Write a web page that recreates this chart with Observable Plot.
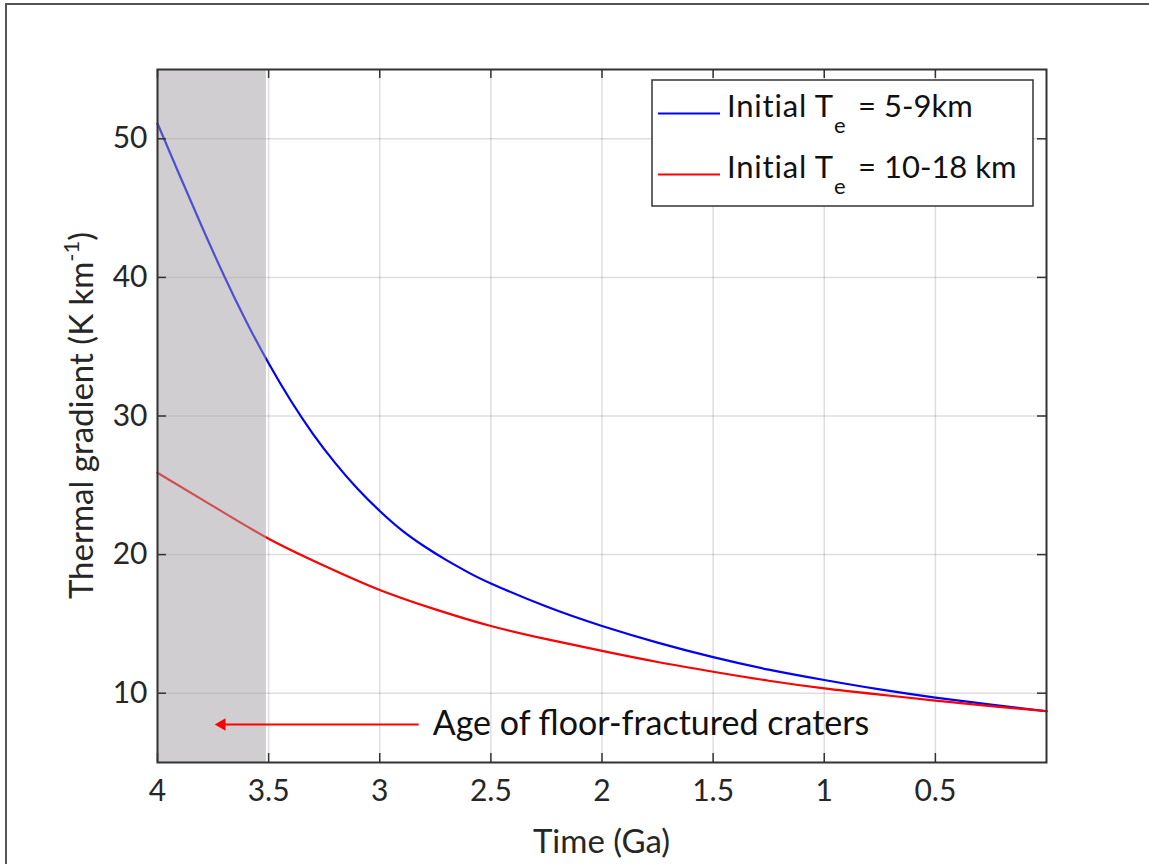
<!DOCTYPE html>
<html>
<head>
<meta charset="utf-8">
<script src="https://cdn.jsdelivr.net/npm/d3@7"></script>
<script src="https://cdn.jsdelivr.net/npm/@observablehq/plot@0.6"></script>
<style>
  html, body { margin: 0; padding: 0; background: #fff; overflow: hidden; }
  #wrap { position: relative; width: 1149px; height: 864px; }
  #border { position: absolute; left: 5px; top: 3px; width: 1200px; height: 900px;
            border-left: 2px solid #555; border-top: 2px solid #555; pointer-events: none; }
  svg { font-family: Lato, "Open Sans", sans-serif; }
</style>
</head>
<body>
<div id="wrap"><div id="chart"></div><div id="border"></div></div>
<script>
// ---- data ----
const timeTicks = [4, 3.5, 3, 2.5, 2, 1.5, 1, 0.5];
const gradTicks = [10, 20, 30, 40, 50];

const blueTime = [4, 3.9, 3.8, 3.7, 3.6, 3.5, 3.4, 3.3, 3.2, 3.1, 3.0, 2.9, 2.8, 2.7, 2.6, 2.5, 2.25, 2.0, 1.75, 1.5, 1.25, 1.0, 0.75, 0.5, 0.25, 0];
const blueGrad = [51.1, 47.35, 43.65, 40.1, 36.8, 33.8, 31.1, 28.7, 26.6, 24.75, 23.15, 21.75, 20.6, 19.6, 18.7, 17.92, 16.25, 14.85, 13.65, 12.6, 11.7, 10.95, 10.27, 9.68, 9.17, 8.7];

const redTime = [4, 3.75, 3.5, 3.25, 3.0, 2.75, 2.5, 2.25, 2.0, 1.75, 1.5, 1.25, 1.0, 0.75, 0.5, 0.25, 0];
const redGrad = [25.9, 23.5, 21.15, 19.2, 17.45, 16.05, 14.85, 13.9, 13.05, 12.25, 11.55, 10.9, 10.35, 9.9, 9.47, 9.07, 8.7];

const seriesNames = ["Initial T_e = 5-9km", "Initial T_e = 10-18 km"];
const seriesColors = ["#0000ff", "#ff0000"];

const shadeStart = 4, shadeEnd = 3.51;          // age of floor-fractured craters
const arrowTail = 2.825, arrowHead = 3.71, arrowGrad = 7.74;
const annotationText = "Age of floor-fractured craters";
const annotationTime = 2.762;

const xDomain = [4, 0], yDomain = [5, 55];

// ---- layout ----
const W = 1149, H = 864;
const mL = 157, mR = 103, mT = 69, mB = 102;
const plotW = W - mL - mR, plotH = H - mT - mB;
const tickPx = 9;
const dxTick = (xDomain[0] - xDomain[1]) / plotW * tickPx;
const dyTick = (yDomain[1] - yDomain[0]) / plotH * tickPx;

const blue = blueTime.map((t, i) => ({t, g: blueGrad[i]}));
const red = redTime.map((t, i) => ({t, g: redGrad[i]}));

const axisColor = "#333";
const svg = Plot.plot({
  width: W, height: H,
  marginLeft: mL, marginRight: mR, marginTop: mT, marginBottom: mB,
  style: {fontFamily: "Lato, 'Open Sans', sans-serif", color: "#262626", background: "white"},
  x: {domain: xDomain, label: null},
  y: {domain: yDomain, label: null},
  marks: [
    Plot.gridX(timeTicks, {stroke: "#000", strokeOpacity: 0.13, strokeWidth: 1.5}),
    Plot.gridY(gradTicks, {stroke: "#000", strokeOpacity: 0.13, strokeWidth: 1.5}),
    Plot.line(blue, {x: "t", y: "g", stroke: seriesColors[0], strokeWidth: 2.2, curve: "natural"}),
    Plot.line(red, {x: "t", y: "g", stroke: seriesColors[1], strokeWidth: 2.2, curve: "natural"}),
    Plot.rect([{a: shadeStart, b: shadeEnd}], {x1: "a", x2: "b", fill: "#a19da3", fillOpacity: 0.5}),
    // annotation arrow
    Plot.link([{a: arrowTail, b: arrowHead, y: arrowGrad}], {x1: "a", x2: "b", y1: "y", y2: "y", stroke: "#ff0000", strokeWidth: 2}),
    Plot.dot([{x: arrowHead, y: arrowGrad}], {x: "x", y: "y", symbol: "triangle", r: 4.6, rotate: -90, fill: "#ff0000", stroke: "none"}),
    Plot.text([annotationText], {x: annotationTime, y: arrowGrad, text: d => d, textAnchor: "start", lineAnchor: "middle", fontSize: 34, fill: "#111"}),
    // axes (labels only) + inward ticks
    Plot.axisX(timeTicks, {anchor: "bottom", tickSize: 0, tickPadding: 17, fontSize: 30, tickFormat: d => String(d)}),
    Plot.axisY(gradTicks, {anchor: "left", tickSize: 0, tickPadding: 10, fontSize: 30}),
    Plot.ruleX(timeTicks, {x: d => d, y1: yDomain[0], y2: yDomain[0] + dyTick, stroke: axisColor, strokeWidth: 1.5}),
    Plot.ruleX(timeTicks, {x: d => d, y1: yDomain[1] - dyTick, y2: yDomain[1], stroke: axisColor, strokeWidth: 1.5}),
    Plot.ruleY(gradTicks, {y: d => d, x1: xDomain[0], x2: xDomain[0] - dxTick, stroke: axisColor, strokeWidth: 1.5}),
    Plot.ruleY(gradTicks, {y: d => d, x1: xDomain[1] + dxTick, x2: xDomain[1], stroke: axisColor, strokeWidth: 1.5}),
    Plot.frame({stroke: axisColor, strokeWidth: 2})
  ]
});
document.getElementById("chart").appendChild(svg);

const s = d3.select(svg);
// axis labels
s.append("text")
  .attr("x", mL + plotW / 2).attr("y", 853)
  .attr("text-anchor", "middle").attr("font-size", 33).attr("fill", "#262626")
  .text("Time (Ga)");
const yl = s.append("text")
  .attr("transform", `translate(93,${mT + plotH / 2}) rotate(-90)`)
  .attr("text-anchor", "middle").attr("font-size", 33).attr("fill", "#262626");
yl.append("tspan").text("Thermal gradient (K km");
yl.append("tspan").attr("font-size", 22).attr("dy", -14).text("-1");
yl.append("tspan").attr("dy", 14).text(")");

// legend
const lg = s.append("g").attr("text-anchor", "start");
lg.append("rect").attr("x", 652).attr("y", 80).attr("width", 381).attr("height", 126)
  .attr("fill", "white").attr("stroke", axisColor).attr("stroke-width", 1.5);
const rows = [
  {y: 113.5, base: 117, name: seriesNames[0], color: seriesColors[0]},
  {y: 174.5, base: 178, name: seriesNames[1], color: seriesColors[1]}
];
rows.forEach(r => {
  lg.append("line").attr("x1", 658).attr("x2", 720).attr("y1", r.y).attr("y2", r.y)
    .attr("stroke", r.color).attr("stroke-width", 2);
  const [pre, post] = r.name.split("_e");
  lg.append("text").attr("x", 727).attr("y", r.base).attr("font-size", 31)
    .attr("fill", "#111").attr("text-anchor", "start")
    .style("letter-spacing", "0.8px").text(pre.trim());
  lg.append("text").attr("x", 834).attr("y", r.base + 16).attr("font-size", 22)
    .attr("fill", "#111").attr("text-anchor", "start").text("e");
  lg.append("text").attr("x", 858).attr("y", r.base).attr("font-size", 31)
    .attr("fill", "#111").attr("text-anchor", "start").text(post.trim());
});
</script>
</body>
</html>
